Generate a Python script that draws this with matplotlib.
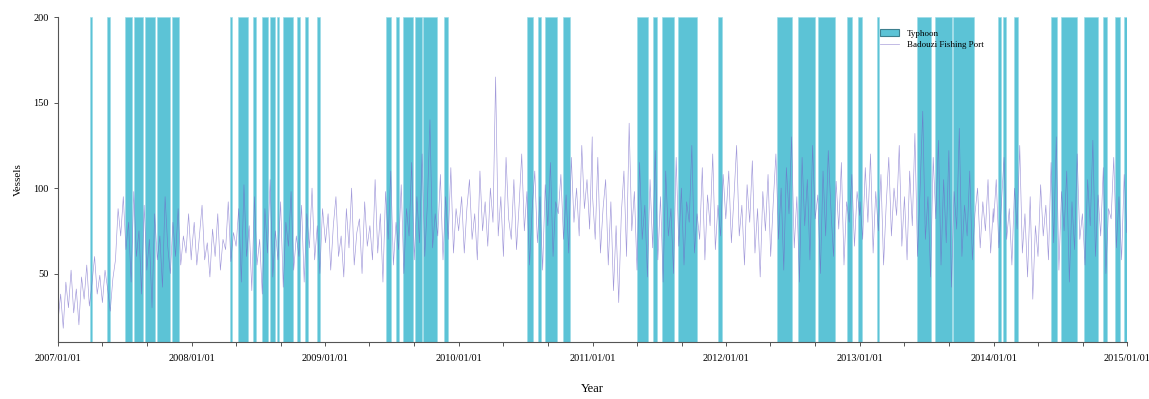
import numpy as np
import pandas as pd
import matplotlib
matplotlib.use("Agg")
import matplotlib.pyplot as plt
import matplotlib.dates as mdates
from matplotlib.patches import Patch
from matplotlib.lines import Line2D

### DATA ###
# weekly-ish vessel counts, one list per year
vessels_2007 = [22, 38, 18, 45, 30, 52, 27, 41, 20, 48, 35, 55, 31, 44, 60, 38, 49, 33, 52, 41,
                28, 47, 58, 88, 72, 95, 64, 80, 45, 98, 60, 75, 38, 90, 52, 70, 30, 85, 58, 72,
                42, 95, 66, 50, 80, 60, 88, 55, 72, 62, 85, 58]
vessels_2008 = [62, 80, 55, 72, 90, 58, 68, 48, 76, 60, 85, 52, 70, 64, 92, 57, 74, 66, 88, 45,
                102, 60, 78, 40, 95, 55, 70, 38, 88, 62, 105, 48, 75, 58, 92, 42, 80, 66, 98, 52,
                72, 60, 90, 45, 85, 65, 100, 58, 78, 50, 88, 70]
vessels_2009 = [68, 85, 52, 78, 95, 60, 72, 48, 88, 65, 100, 55, 74, 82, 50, 92, 66, 78, 58, 105,
                62, 85, 45, 98, 70, 110, 55, 80, 64, 102, 50, 88, 72, 115, 58, 95, 68, 120, 60, 90,
                140, 65, 85, 72, 108, 58, 95, 70, 112, 62, 88, 75]
vessels_2010 = [78, 95, 62, 88, 105, 70, 85, 58, 110, 75, 92, 66, 100, 80, 165, 72, 95, 60, 118, 82,
                70, 105, 64, 90, 120, 75, 98, 55, 88, 110, 68, 95, 52, 102, 78, 115, 60, 92, 85, 108,
                70, 96, 62, 118, 80, 100, 72, 125, 88, 105, 76, 130]
vessels_2011 = [95, 70, 118, 62, 88, 105, 55, 92, 40, 78, 33, 85, 110, 60, 138, 75, 98, 52, 115, 70,
                90, 48, 105, 65, 122, 58, 95, 45, 110, 72, 88, 50, 118, 66, 100, 55, 92, 80, 125, 62,
                85, 70, 112, 58, 96, 78, 120, 64, 90, 72, 108, 82]
vessels_2012 = [85, 110, 68, 95, 125, 72, 90, 55, 102, 80, 116, 62, 88, 48, 98, 75, 108, 60, 92, 120,
                70, 100, 52, 112, 85, 130, 65, 95, 45, 118, 78, 105, 58, 125, 82, 96, 50, 110, 72, 122,
                88, 60, 104, 76, 115, 55, 92, 80, 108, 66, 98, 84]
vessels_2013 = [92, 70, 112, 80, 120, 62, 98, 75, 108, 55, 90, 118, 72, 100, 84, 125, 66, 95, 58, 110,
                78, 132, 60, 100, 145, 70, 95, 48, 118, 82, 128, 55, 105, 68, 122, 42, 98, 76, 135, 60,
                90, 72, 110, 58, 85, 100, 65, 92, 75, 105, 62, 88]
vessels_2014 = [80, 105, 65, 92, 118, 70, 88, 55, 100, 76, 125, 62, 85, 48, 95, 35, 78, 60, 102, 72,
                90, 58, 115, 68, 130, 52, 98, 75, 110, 45, 92, 64, 120, 70, 85, 55, 105, 78, 128, 60,
                96, 72, 112, 50, 88, 82, 118, 65, 95, 58, 108, 74]
years = [2007, 2008, 2009, 2010, 2011, 2012, 2013, 2014]
yearly = [vessels_2007, vessels_2008, vessels_2009, vessels_2010,
          vessels_2011, vessels_2012, vessels_2013, vessels_2014]

# typhoon warning periods (start, end)
typhoon_start = ["2007-03-29", "2007-05-14", "2007-07-03", "2007-07-28", "2007-08-27", "2007-09-29", "2007-11-09",
                 "2008-04-15", "2008-05-07", "2008-06-17", "2008-07-12", "2008-08-03", "2008-08-22", "2008-09-07",
                 "2008-10-15", "2008-11-06", "2008-12-09",
                 "2009-06-16", "2009-07-13", "2009-08-01", "2009-09-03", "2009-09-25", "2009-11-21",
                 "2010-07-06", "2010-08-05", "2010-08-24", "2010-10-13",
                 "2011-05-03", "2011-06-16", "2011-07-10", "2011-08-23", "2011-12-10",
                 "2012-05-20", "2012-07-16", "2012-09-09", "2012-11-27", "2012-12-27",
                 "2013-02-17", "2013-06-06", "2013-07-26", "2013-09-13",
                 "2014-01-13", "2014-01-27", "2014-02-27", "2014-06-08", "2014-07-03", "2014-09-06",
                 "2014-10-28", "2014-11-30", "2014-12-22"]
typhoon_end = ["2007-04-05", "2007-05-23", "2007-07-22", "2007-08-21", "2007-09-23", "2007-11-03", "2007-11-28",
               "2008-04-21", "2008-06-03", "2008-06-25", "2008-07-28", "2008-08-16", "2008-08-27", "2008-10-04",
               "2008-10-24", "2008-11-15", "2008-12-17",
               "2009-06-29", "2009-07-21", "2009-08-29", "2009-09-22", "2009-11-02", "2009-12-02",
               "2010-07-23", "2010-08-14", "2010-09-26", "2010-11-01",
               "2011-06-02", "2011-06-27", "2011-08-12", "2011-10-14", "2011-12-21",
               "2012-06-30", "2012-09-01", "2012-10-25", "2012-12-11", "2013-01-07",
               "2013-02-23", "2013-07-15", "2013-09-10", "2013-11-09",
               "2014-01-21", "2014-02-04", "2014-03-10", "2014-06-24", "2014-08-18", "2014-10-14",
               "2014-11-08", "2014-12-13", "2014-12-31"]

# build the date index for the line
dates = []
values = []
for yr, vals in zip(years, yearly):
    d = pd.date_range(f"{yr}-01-01", f"{yr}-12-31", periods=len(vals))
    dates.extend(d)
    values.extend(vals)

### PLOTTING ###
plt.rcParams['font.family'] = ['Liberation Serif', 'DejaVu Serif']
fig = plt.figure(figsize=(11.49, 3.99), dpi=100)
ax = fig.add_axes([0.0505, 0.143, 0.9305, 0.814])

bar_color = "#5cc3d6"
for s, e in zip(typhoon_start, typhoon_end):
    ax.axvspan(pd.Timestamp(s), pd.Timestamp(e), facecolor=bar_color, edgecolor="#9adbe7", lw=0.4, zorder=1)

ax.plot(dates, values, color="#6f62c6", lw=0.45, alpha=0.65, zorder=2)

ax.set_xlim(pd.Timestamp("2007-01-01"), pd.Timestamp("2015-01-01"))
ax.set_ylim(10, 200)
ax.set_yticks([50, 100, 150, 200])

ax.xaxis.set_major_locator(mdates.YearLocator())
ax.xaxis.set_major_formatter(mdates.DateFormatter("%Y/%m/%d"))
ax.xaxis.set_minor_locator(mdates.MonthLocator(bymonth=[5, 9]))

for sp in ["top", "right"]:
    ax.spines[sp].set_visible(False)
for sp in ["left", "bottom"]:
    ax.spines[sp].set_color("#555555")
    ax.spines[sp].set_linewidth(0.8)
ax.tick_params(axis="both", which="both", length=3, width=0.7, color="#555555", labelsize=7.5)
ax.tick_params(axis="x", pad=6)

ax.set_xlabel("Year", fontsize=9, labelpad=14)
ax.set_ylabel("Vessels", fontsize=8, labelpad=8)

handles = [Patch(facecolor=bar_color, edgecolor="#3d7f8e", lw=0.8),
           Line2D([0], [0], color="#b8b0e0", lw=0.6)]
ax.legend(handles, ["Typhoon", "Badouzi Fishing Port"], loc="upper left",
          bbox_to_anchor=(0.765, 0.975), frameon=False, fontsize=6.5,
          handlelength=2.2, handleheight=0.9, labelspacing=0.3, borderaxespad=0)

fig.savefig("out.png", dpi=100)
